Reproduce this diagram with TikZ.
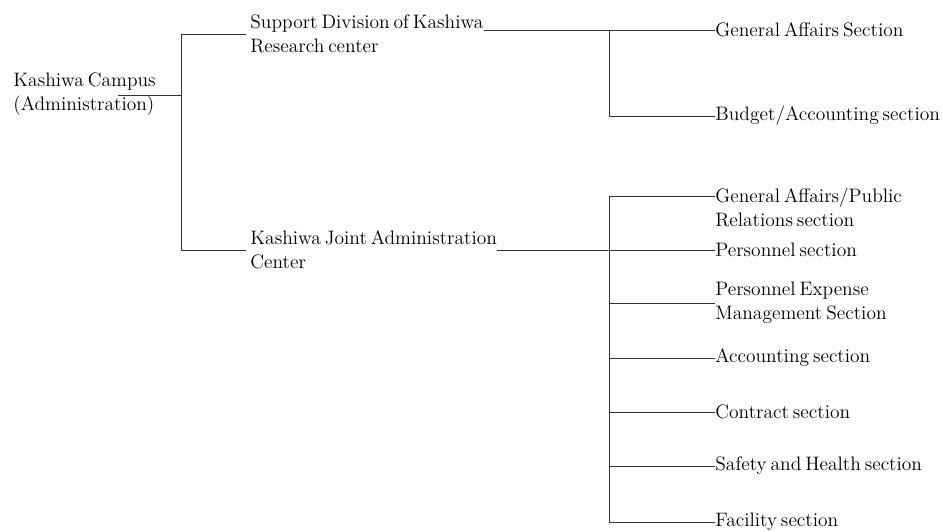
\documentclass[tikz,border=0pt]{standalone}
\usetikzlibrary{positioning,calc}
\newcommand{\orgfont}{\fontsize{14.6}{18}\selectfont\spaceskip=0.2em plus 0.1em minus 0.05em\relax}

\begin{document}
\begin{tikzpicture}[x=0.75pt, y=-0.75pt, semithick, draw=black!80,
  every node/.style={inner sep=0pt, align=left, font=\orgfont}]
\tikzstyle{unit}=[anchor=west]
\useasboundingbox (0,0) rectangle (943,532);
% campus and divisions
\node[unit] (K) at (13,94)  {Kashiwa Campus\\(Administration)};
\node[unit] (S) at (250,34) {Support Division of Kashiwa\\Research center};
\node[unit] (C) at (250,250) {Kashiwa Joint Administration\\Center};
% sections of the support division
\node[unit] (G1) at (715,30)  {General Affairs Section};
\node[unit] (G2) at (715,116) {Budget/Accounting section};
% sections of the joint center
\node[unit] (P1) at (715,207) {General Affairs/Public\\Relations section};
\node[unit] (P2) at (715,250) {Personnel section};
\node[unit] (P3) at (715,303) {Personnel Expense\\Management Section};
\node[unit] (P4) at (715,358) {Accounting section};
\node[unit] (P5) at (715,412) {Contract section};
\node[unit] (P6) at (715,466) {Safety and Health section};
\node[unit] (P7) at (715,522) {Facility section};
% junctions
\coordinate (Kin) at (118,95);
\coordinate (J1) at (181,34);
\coordinate (J2) at (609,30);
\coordinate (J3) at (609,196);
\path
(Kin) edge (J1 |- Kin)
(J1)  edge (J1 |- C.west)
      edge ([xshift=-3pt]S.west)
(J1 |- C.west) edge ([xshift=-3pt]C.west)
(S.east |- J2) edge (G1.west)
(J2)  edge (J2 |- G2.west)
(J2 |- G2.west) edge (G2.west)
(C.east) edge (P2.west)
(J3)  edge (J3 |- P7.west)
      edge (J3 -| P1.west);
\foreach \p in {P3,P4,P5,P6,P7}
  \draw (J3 |- \p.west) -- (\p.west);
\end{tikzpicture}
\end{document}
